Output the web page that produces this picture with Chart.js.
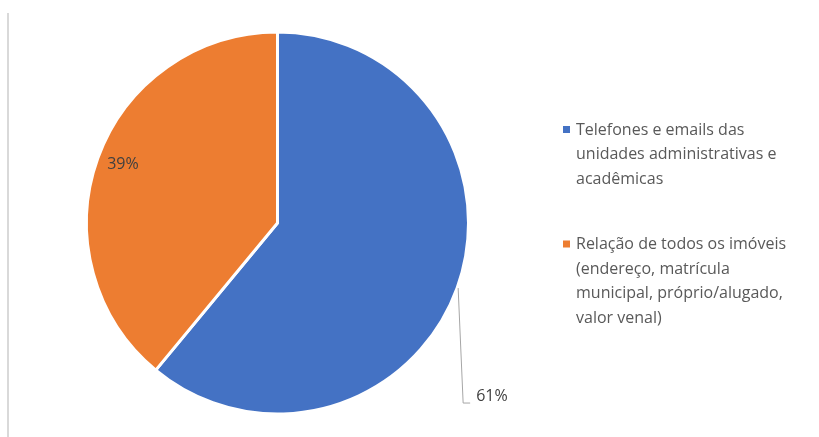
<!DOCTYPE html>
<html>
<head>
<meta charset="utf-8">
<script src="https://cdn.jsdelivr.net/npm/chart.js@4.4.0/dist/chart.umd.min.js"></script>
<style>
  html, body { margin: 0; padding: 0; background: #fff; }
  #wrap { width: 819px; height: 437px; position: relative; }
</style>
</head>
<body>
<div id="wrap"><canvas id="pieChart"></canvas></div>
<script>
const categories = [
  ["Telefones e emails das", "unidades administrativas e", "acadêmicas"],
  ["Relação de todos os imóveis", "(endereço, matrícula", "municipal, próprio/alugado,", "valor venal)"],
];
const shares = [61, 39];
const colors = ["#4472C4", "#ED7D31"];

const FONT = "'Open Sans', sans-serif";
const TEXT = "#595959";

// grey edge line at the left of the picture
const edgeLine = {
  id: "edgeLine",
  beforeDraw(chart) {
    const ctx = chart.ctx;
    ctx.save();
    ctx.strokeStyle = "#d9d9d9";
    ctx.lineWidth = 2;
    ctx.beginPath();
    ctx.moveTo(8, 13);
    ctx.lineTo(8, chart.height);
    ctx.stroke();
    ctx.restore();
  },
};

// percent labels, 61% with a leader line
const pctLabels = {
  id: "pctLabels",
  afterDatasetsDraw(chart) {
    const ctx = chart.ctx;
    const arcs = chart.getDatasetMeta(0).data;
    ctx.save();
    ctx.font = "16px " + FONT;
    ctx.fillStyle = "#404040";
    ctx.textBaseline = "middle";
    arcs.forEach((arc, i) => {
      const mid = (arc.startAngle + arc.endAngle) / 2;
      const txt = shares[i] + "%";
      if (i === 0) {
        const sx = arc.x + Math.cos(mid) * (arc.outerRadius + 1);
        const sy = arc.y + Math.sin(mid) * (arc.outerRadius + 1);
        const ey = sy + 115;
        ctx.strokeStyle = "#a6a6a6";
        ctx.lineWidth = 1;
        ctx.beginPath();
        ctx.moveTo(sx, sy);
        ctx.lineTo(sx + 5, ey);
        ctx.lineTo(sx + 12, ey);
        ctx.stroke();
        ctx.textAlign = "left";
        ctx.fillText(txt, sx + 18, ey - 7);
      } else {
        const r = arc.outerRadius * 0.86;
        ctx.textAlign = "center";
        ctx.fillText(txt, arc.x + Math.cos(mid) * r, arc.y + Math.sin(mid) * r - 3);
      }
    });
    ctx.restore();
  },
};

// wrapped legend on the right
const sideLegend = {
  id: "sideLegend",
  afterDraw(chart) {
    const ctx = chart.ctx;
    const lineH = 24.5;
    let y = 130;
    ctx.save();
    ctx.font = "16px " + FONT;
    ctx.textBaseline = "middle";
    ctx.textAlign = "left";
    categories.forEach((lines, i) => {
      ctx.fillStyle = colors[i];
      ctx.fillRect(563, y - 4, 7, 7);
      ctx.fillStyle = TEXT;
      lines.forEach((ln, j) => ctx.fillText(ln, 576, y + j * lineH));
      y += lines.length * lineH + 41;
    });
    ctx.restore();
  },
};

new Chart(document.getElementById("pieChart"), {
  type: "pie",
  data: {
    labels: categories.map((c) => c.join(" ")),
    datasets: [
      {
        data: shares,
        backgroundColor: colors,
        borderColor: "#ffffff",
        borderWidth: 3,
      },
    ],
  },
  options: {
    responsive: true,
    maintainAspectRatio: false,
    animation: false,
    layout: { padding: { left: 85, right: 349, top: 30, bottom: 21 } },
    plugins: {
      legend: { display: false },
      tooltip: { enabled: false },
    },
  },
  plugins: [edgeLine, pctLabels, sideLegend],
});
</script>
</body>
</html>
